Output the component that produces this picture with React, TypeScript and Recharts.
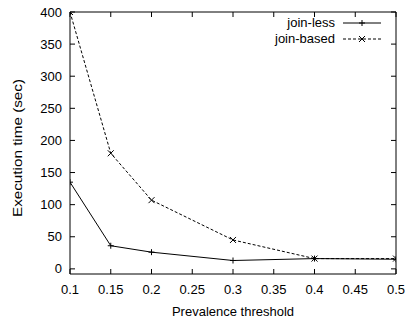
import { LineChart, Line, XAxis, YAxis } from "recharts";

// values (execution time in seconds)
const thresholds = [0.1, 0.15, 0.2, 0.3, 0.4, 0.5];
const joinLess = [135, 36, 26, 13, 16, 15];
const joinBased = [400, 180, 107, 45, 16, 16];

const xTicks = [0.1, 0.15, 0.2, 0.25, 0.3, 0.35, 0.4, 0.45, 0.5];
const yTicks = [0, 50, 100, 150, 200, 250, 300, 350, 400];

const data = thresholds.map((t, i) => ({
  t,
  joinLess: joinLess[i],
  joinBased: joinBased[i],
}));

const FONT = "'Liberation Sans', Arial, Helvetica, sans-serif";
const INK = "#000";
const FS = 13;

function PlusMark({ cx, cy }: { cx?: number; cy?: number }) {
  if (cx == null || cy == null) return null;
  const s = 3;
  return (
    <path
      d={`M${cx - s},${cy}H${cx + s}M${cx},${cy - s}V${cy + s}`}
      stroke={INK}
      strokeWidth={1}
      fill="none"
    />
  );
}

function CrossMark({ cx, cy }: { cx?: number; cy?: number }) {
  if (cx == null || cy == null) return null;
  const s = 3;
  return (
    <path
      d={`M${cx - s},${cy - s}L${cx + s},${cy + s}M${cx - s},${cy + s}L${cx + s},${cy - s}`}
      stroke={INK}
      strokeWidth={1}
      fill="none"
    />
  );
}

const legendRows = [
  { name: "join-less", dash: undefined as string | undefined, mark: "plus" },
  { name: "join-based", dash: "3 2", mark: "cross" },
];

// key drawn as a plain overlay in the top-right corner of the plot
function KeyBox() {
  return (
    <div
      style={{
        position: "absolute",
        top: 15,
        left: 251,
        width: 130,
        fontFamily: FONT,
        fontSize: FS,
        color: INK,
        lineHeight: "16px",
      }}
    >
      {legendRows.map((r) => (
        <div
          key={r.name}
          style={{ display: "flex", justifyContent: "flex-end", alignItems: "center", height: 16 }}
        >
          <span>{r.name}</span>
          <svg width={38} height={10} style={{ marginLeft: 8, display: "block" }}>
            <line x1={0} y1={5} x2={38} y2={5} stroke={INK} strokeWidth={1} strokeDasharray={r.dash} />
            {r.mark === "plus" ? <PlusMark cx={19} cy={5} /> : <CrossMark cx={19} cy={5} />}
          </svg>
        </div>
      ))}
    </div>
  );
}

function XTickLabel({ x, y, payload }: any) {
  return (
    <text x={x} y={y} dy="0.71em" textAnchor="middle" fill={INK} fontSize={FS} fontFamily={FONT}>
      {String(payload.value)}
    </text>
  );
}

function YTickLabel({ x, y, payload }: any) {
  return (
    <text x={x} y={y} dy="0.355em" textAnchor="end" fill={INK} fontSize={FS} fontFamily={FONT}>
      {String(payload.value)}
    </text>
  );
}

// mirrored axes only keep their inward tick marks
function NoLabel() {
  return <g />;
}

export default function App() {
  return (
    <div style={{ position: "absolute", left: 0, top: 0, width: 407, height: 325, background: "#fff" }}>
      <LineChart
        width={407}
        height={325}
        data={data}
        margin={{ top: 0, right: 0, bottom: 0, left: 0 }}
      >
        <XAxis
          dataKey="t"
          type="number"
          domain={[0.1, 0.5]}
          allowDataOverflow
          ticks={xTicks}
          interval={0}
          height={51}
          stroke={INK}
          tickSize={-5}
          tickMargin={16}
          tick={<XTickLabel />}
        />
        <XAxis
          xAxisId="top"
          dataKey="t"
          orientation="top"
          type="number"
          domain={[0.1, 0.5]}
          allowDataOverflow
          ticks={xTicks}
          interval={0}
          height={12}
          stroke={INK}
          tickSize={-5}
          tick={<NoLabel />}
        />
        <YAxis
          type="number"
          domain={[-8, 400]}
          allowDataOverflow
          ticks={yTicks}
          interval={0}
          width={70}
          stroke={INK}
          tickSize={-5}
          tickMargin={13}
          tick={<YTickLabel />}
        />
        <YAxis
          yAxisId="right"
          orientation="right"
          type="number"
          domain={[-8, 400]}
          allowDataOverflow
          ticks={yTicks}
          interval={0}
          width={11}
          stroke={INK}
          tickSize={-5}
          tick={<NoLabel />}
        />
        {/* invisible copy that ties the mirrored top/right axes to the data */}
        <Line
          xAxisId="top"
          yAxisId="right"
          dataKey="joinLess"
          stroke="none"
          dot={false}
          activeDot={false}
          legendType="none"
          isAnimationActive={false}
        />
        <Line
          dataKey="joinLess"
          name="join-less"
          type="linear"
          stroke={INK}
          strokeWidth={1}
          dot={(p: any) => <PlusMark key={`jl-${p.index}`} cx={p.cx} cy={p.cy} />}
          activeDot={false}
          isAnimationActive={false}
        />
        <Line
          dataKey="joinBased"
          name="join-based"
          type="linear"
          stroke={INK}
          strokeWidth={1}
          strokeDasharray="3 2"
          dot={(p: any) => <CrossMark key={`jb-${p.index}`} cx={p.cx} cy={p.cy} />}
          activeDot={false}
          isAnimationActive={false}
        />
      </LineChart>
      <KeyBox />
      <svg
        width={407}
        height={325}
        style={{ position: "absolute", left: 0, top: 0, pointerEvents: "none" }}
      >
        <text x={233} y={316} textAnchor="middle" fill={INK} fontSize={FS} fontFamily={FONT}>
          Prevalence threshold
        </text>
        <text
          x={17}
          y={148}
          transform="rotate(-90 17 148)"
          textAnchor="middle"
          dominantBaseline="central"
          fill={INK}
          fontSize={FS}
          fontFamily={FONT}
          textLength={138}
          lengthAdjust="spacingAndGlyphs"
        >
          Execution time (sec)
        </text>
      </svg>
    </div>
  );
}
